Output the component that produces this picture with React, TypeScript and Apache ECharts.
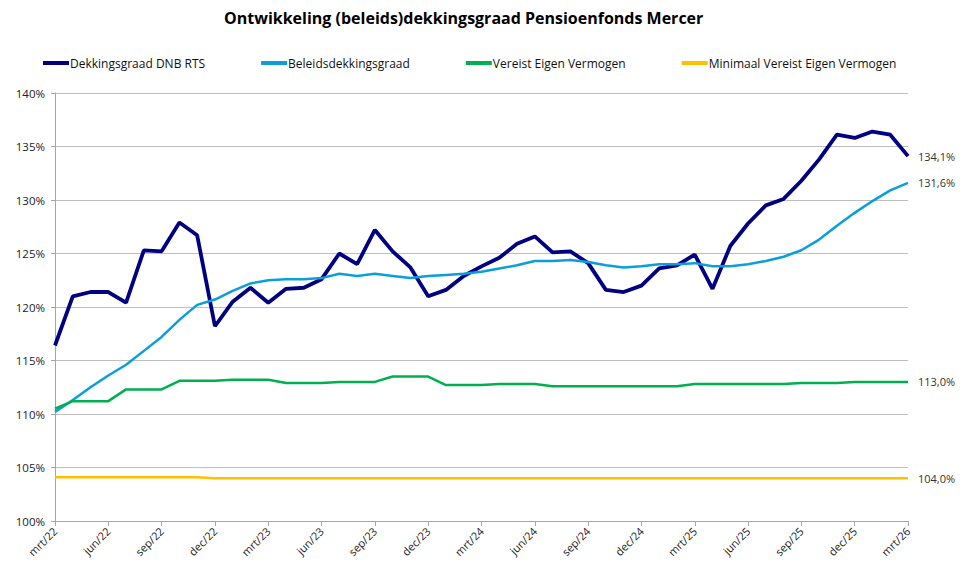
import React, { useEffect, useRef } from "react";
import * as echarts from "echarts";

const categories = [
  "mrt/22","apr/22","mei/22","jun/22","jul/22","aug/22","sep/22","okt/22","nov/22","dec/22","jan/23","feb/23",
  "mrt/23","apr/23","mei/23","jun/23","jul/23","aug/23","sep/23","okt/23","nov/23","dec/23","jan/24","feb/24",
  "mrt/24","apr/24","mei/24","jun/24","jul/24","aug/24","sep/24","okt/24","nov/24","dec/24","jan/25","feb/25",
  "mrt/25","apr/25","mei/25","jun/25","jul/25","aug/25","sep/25","okt/25","nov/25","dec/25","jan/26","feb/26",
  "mrt/26",
];

const dekkingsgraad = [
  116.4, 121.0, 121.4, 121.4, 120.4, 125.3, 125.2, 127.9, 126.7, 118.2, 120.5, 121.8,
  120.4, 121.7, 121.8, 122.6, 125.0, 124.0, 127.2, 125.2, 123.7, 121.0, 121.6, 122.9,
  123.8, 124.6, 125.9, 126.6, 125.1, 125.2, 124.1, 121.6, 121.4, 122.0, 123.6, 123.9,
  124.9, 121.7, 125.7, 127.8, 129.5, 130.1, 131.8, 133.8, 136.1, 135.8, 136.4, 136.1,
  134.1,
];

const beleidsdekkingsgraad = [
  110.2, 111.3, 112.5, 113.6, 114.6, 115.9, 117.2, 118.8, 120.2, 120.7, 121.5, 122.2,
  122.5, 122.6, 122.6, 122.7, 123.1, 122.9, 123.1, 122.9, 122.7, 122.9, 123.0, 123.1,
  123.3, 123.6, 123.9, 124.3, 124.3, 124.4, 124.2, 123.9, 123.7, 123.8, 124.0, 124.0,
  124.1, 123.8, 123.8, 124.0, 124.3, 124.7, 125.3, 126.3, 127.6, 128.8, 129.9, 130.9,
  131.6,
];

const vereistEV = [
  110.5, 111.2, 111.2, 111.2, 112.3, 112.3, 112.3, 113.1, 113.1, 113.1, 113.2, 113.2,
  113.2, 112.9, 112.9, 112.9, 113.0, 113.0, 113.0, 113.5, 113.5, 113.5, 112.7, 112.7,
  112.7, 112.8, 112.8, 112.8, 112.6, 112.6, 112.6, 112.6, 112.6, 112.6, 112.6, 112.6,
  112.8, 112.8, 112.8, 112.8, 112.8, 112.8, 112.9, 112.9, 112.9, 113.0, 113.0, 113.0,
  113.0,
];

const minimaalVEV = [
  104.1, 104.1, 104.1, 104.1, 104.1, 104.1, 104.1, 104.1, 104.1, 104.0, 104.0, 104.0,
  104.0, 104.0, 104.0, 104.0, 104.0, 104.0, 104.0, 104.0, 104.0, 104.0, 104.0, 104.0,
  104.0, 104.0, 104.0, 104.0, 104.0, 104.0, 104.0, 104.0, 104.0, 104.0, 104.0, 104.0,
  104.0, 104.0, 104.0, 104.0, 104.0, 104.0, 104.0, 104.0, 104.0, 104.0, 104.0, 104.0,
  104.0,
];

const FONT = "'Open Sans', 'Noto Sans', sans-serif";

export default function App() {
  const ref = useRef<HTMLDivElement>(null);

  useEffect(() => {
    if (!ref.current) return;
    const chart = echarts.init(ref.current, null, { renderer: "svg" });
    const endLabel = {
      show: true,
      distance: 10,
      fontFamily: FONT,
      fontSize: 11,
      color: "#333",
      formatter: (p: any) => p.value.toFixed(1).replace(".", ",") + "%",
    };
    const mk = (name: string, data: number[], color: string, width: number) => ({
      name,
      type: "line",
      data,
      symbol: "none",
      lineStyle: { color, width },
      itemStyle: { color },
      endLabel,
    });
    chart.setOption({
      animation: false,
      backgroundColor: "#fff",
      title: {
        text: "Ontwikkeling (beleids)dekkingsgraad Pensioenfonds Mercer",
        left: 219,
        top: 5,
        textStyle: { fontFamily: FONT, fontSize: 16, fontWeight: "bold", color: "#000" },
      },
      legend: {
        top: 52,
        left: 38,
        itemGap: 56,
        itemWidth: 26,
        itemHeight: 4,
        icon: "rect",
        textStyle: { fontFamily: FONT, fontSize: 12, color: "#111", padding: [0, 0, 0, -4] },
        data: ["Dekkingsgraad DNB RTS", "Beleidsdekkingsgraad", "Vereist Eigen Vermogen", "Minimaal Vereist Eigen Vermogen"],
      },
      grid: { left: 55, right: 65, top: 93, bottom: 62, containLabel: false },
      xAxis: {
        type: "category",
        data: categories,
        boundaryGap: false,
        axisLine: { lineStyle: { color: "#a6a6a6" } },
        axisTick: { show: true, interval: 2, length: 5, lineStyle: { color: "#a6a6a6" } },
        axisLabel: {
          interval: 2,
          rotate: 45,
          fontFamily: FONT,
          fontSize: 11,
          color: "#222",
          margin: 8,
        },
        splitLine: { show: false },
      },
      yAxis: {
        type: "value",
        min: 100,
        max: 140,
        interval: 5,
        axisLine: { show: true, lineStyle: { color: "#a6a6a6" } },
        axisTick: { show: true, length: 4, lineStyle: { color: "#a6a6a6" } },
        axisLabel: {
          formatter: (v: number) => v + "%",
          fontFamily: FONT,
          fontSize: 11.5,
          color: "#222",
          margin: 10,
        },
        splitLine: { show: true, lineStyle: { color: "#bfbfbf", width: 1 } },
      },
      series: [
        mk("Dekkingsgraad DNB RTS", dekkingsgraad, "#000080", 3.8),
        mk("Beleidsdekkingsgraad", beleidsdekkingsgraad, "#0a9fdc", 2.5),
        mk("Vereist Eigen Vermogen", vereistEV, "#00b050", 2.5),
        mk("Minimaal Vereist Eigen Vermogen", minimaalVEV, "#ffc000", 2.5),
      ],
    });
    return () => chart.dispose();
  }, []);

  return <div ref={ref} style={{ width: 973, height: 583, position: "absolute", left: 0, top: 0 }} />;
}
